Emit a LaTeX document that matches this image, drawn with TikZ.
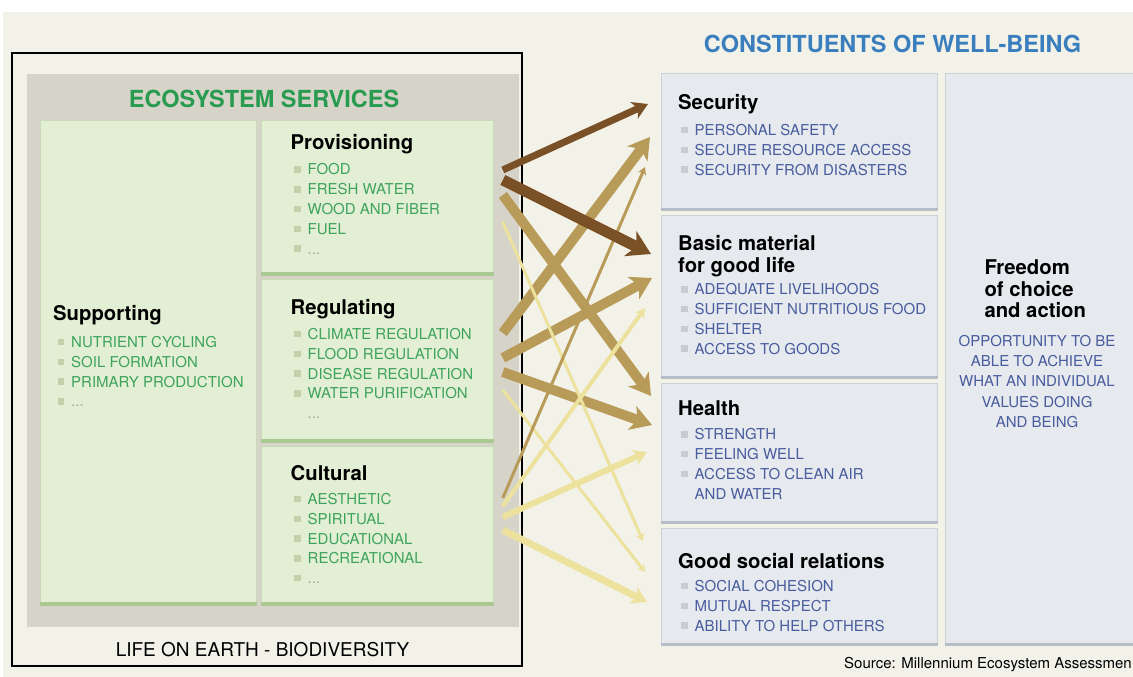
\documentclass[tikz,border=0pt]{standalone}
\usepackage{fontspec}
\setmainfont{TeX Gyre Heros}
\usetikzlibrary{arrows.meta,calc}

\definecolor{cream}{RGB}{243,242,233}
\definecolor{panelgray}{RGB}{214,212,200}
\definecolor{gfill}{RGB}{227,239,212}
\definecolor{gline}{RGB}{200,218,182}
\definecolor{gedgecol}{RGB}{170,200,145}
\definecolor{gbul}{RGB}{196,208,170}
\definecolor{gtext}{RGB}{62,163,92}
\definecolor{gdots}{RGB}{150,172,138}
\definecolor{ecogreen}{RGB}{40,155,80}
\definecolor{bfill}{RGB}{230,233,238}
\definecolor{bline}{RGB}{204,208,216}
\definecolor{bedgecol}{RGB}{182,188,200}
\definecolor{bbul}{RGB}{200,203,210}
\definecolor{btext}{RGB}{72,92,158}
\definecolor{wbblue}{RGB}{58,126,190}
\definecolor{arrbrown}{RGB}{122,80,38}
\definecolor{arrtan}{RGB}{184,155,88}
\definecolor{arrlight}{RGB}{236,226,158}

\newcommand\bul{\raisebox{2.2pt}{\textcolor{bulcol}{\rule{6.5pt}{6.5pt}}}\hspace{7pt}}
\newcommand\nobul{\hspace{13.5pt}}

\tikzset{
  gbox/.style={rectangle, anchor=north west, inner sep=0pt, fill=gfill, draw=gline, line width=0.8pt},
  bbox/.style={rectangle, anchor=north west, inner sep=0pt, fill=bfill, draw=bline, line width=0.8pt},
  gedge/.style={draw=gedgecol, line width=3.5pt},
  bedge/.style={draw=bedgecol, line width=3pt},
  cathead/.style={anchor=base west, inner sep=0pt, align=left, font=\fontsize{20.3}{22}\selectfont\bfseries},
  maintitle/.style={anchor=base, inner sep=0pt, font=\fontsize{23.5}{26}\selectfont\bfseries},
  glist/.style={anchor=north west, inner sep=0pt, align=left, text=gtext,
    font=\fontsize{15}{19.8}\selectfont\colorlet{bulcol}{gbul}},
  blist/.style={anchor=north west, inner sep=0pt, align=left, text=btext,
    font=\fontsize{15}{19.8}\selectfont\colorlet{bulcol}{bbul}},
  arr/.style={-{Stealth[length=2pt 1.9, width=2pt 2.3, inset=1pt 0.5]}},
  linkstrong/.style={arr, draw=arrbrown},
  linkmed/.style={arr, draw=arrtan},
  linkweak/.style={arr, draw=arrlight}
}

\begin{document}
\begin{tikzpicture}[x=1pt,y=-1pt]
\useasboundingbox (0,0) rectangle (1133,677);
\fill[white] (0,0) rectangle (1133,677);
\fill[cream] (3,12) rectangle (1133,677);

% ecosystem services
\fill[panelgray] (27,74) rectangle (519,627);
\draw[line width=1.5pt] (12,53) rectangle (522,666);
\node[maintitle, text=ecogreen] (ecotitle) at (264,107.5) {ECOSYSTEM SERVICES};

\node[gbox, minimum width=216pt, minimum height=485pt] (supp) at (40,120) {};
\node[gbox, minimum width=232pt, minimum height=155pt] (prov) at (261,120) {};
\node[gbox, minimum width=232pt, minimum height=163pt] (reg) at (261,279) {};
\node[gbox, minimum width=232pt, minimum height=159pt] (cult) at (261,446) {};
\foreach \b in {supp,prov,reg,cult}
  \draw[gedge] ([yshift=1.75pt]\b.south west) -- ([yshift=1.75pt]\b.south east);

\node[cathead] (supphead) at (53,320.5) {Supporting};
\node[glist] (supplist) at (57.5,336) {\bul NUTRIENT CYCLING\\ \bul SOIL FORMATION\\
  \bul PRIMARY PRODUCTION\\ \bul\textcolor{gdots}{...}};
\node[cathead] (provhead) at (290.5,149.5) {Provisioning};
\node[glist] (provlist) at (294,163.5) {\bul FOOD\\ \bul FRESH WATER\\ \bul WOOD AND FIBER\\
  \bul FUEL\\ \bul\textcolor{gdots}{...}};
\node[cathead] (reghead) at (290.5,314.5) {Regulating};
\node[glist] (reglist) at (294,328) {\bul CLIMATE REGULATION\\ \bul FLOOD REGULATION\\
  \bul DISEASE REGULATION\\ \bul WATER PURIFICATION\\ \nobul\textcolor{gdots}{...}};
\node[cathead] (culthead) at (290.5,480) {Cultural};
\node[glist] (cultlist) at (294,493) {\bul AESTHETIC\\ \bul SPIRITUAL\\ \bul EDUCATIONAL\\
  \bul RECREATIONAL\\ \bul\textcolor{gdots}{...}};

\node[anchor=base, inner sep=0pt, font=\fontsize{19}{22}\selectfont] (life) at (262.5,656)
  {LIFE ON EARTH - BIODIVERSITY};

% constituents of well-being
\node[maintitle, text=wbblue] (wbtitle) at (892.5,53) {CONSTITUENTS OF WELL-BEING};

\node[bbox, minimum width=276pt, minimum height=137pt] (secu) at (661,73) {};
\node[bbox, minimum width=276pt, minimum height=163pt] (basic) at (661,215) {};
\node[bbox, minimum width=276pt, minimum height=140pt] (health) at (661,383) {};
\node[bbox, minimum width=276pt, minimum height=117pt] (social) at (661,528) {};
\node[bbox, minimum width=192pt, minimum height=572pt] (free) at (945,73) {};
\foreach \b in {secu,basic,health,social,free}
  \draw[bedge] ([yshift=1.5pt]\b.south west) -- ([yshift=1.5pt]\b.south east);

\node[cathead] (secuhead) at (678,109.3) {Security};
\node[blist] (seculist) at (681,124) {\bul PERSONAL SAFETY\\ \bul SECURE RESOURCE ACCESS\\
  \bul SECURITY FROM DISASTERS};
\node[cathead, anchor=north west] (basichead) at (678,235) {Basic material\\ for good life};
\node[blist] (basiclist) at (681,283.3) {\bul ADEQUATE LIVELIHOODS\\ \bul SUFFICIENT NUTRITIOUS FOOD\\
  \bul SHELTER\\ \bul ACCESS TO GOODS};
\node[cathead] (healthhead) at (678,415) {Health};
\node[blist] (healthlist) at (681,428.3) {\bul STRENGTH\\ \bul FEELING WELL\\
  \bul ACCESS TO CLEAN AIR\\ \nobul AND WATER};
\node[cathead] (socialhead) at (678,568.3) {Good social relations};
\node[blist] (sociallist) at (681,580) {\bul SOCIAL COHESION\\ \bul MUTUAL RESPECT\\
  \bul ABILITY TO HELP OTHERS};
\node[cathead, anchor=north west, font=\fontsize{20.3}{21.7}\selectfont\bfseries] (freehead)
  at (984.3,259.3) {Freedom\\ of choice\\ and action};
\node[anchor=north, inner sep=0pt, align=center, text=btext, font=\fontsize{15}{20.2}\selectfont]
  (freetext) at (1037,335) {OPPORTUNITY TO BE\\ ABLE TO ACHIEVE\\ WHAT AN INDIVIDUAL\\
  VALUES DOING\\ AND BEING};

\node[anchor=base west, inner sep=0pt, font=\fontsize{15}{18}\selectfont] (source) at (844,668)
  {Source: Millennium Ecosystem Assessmen};

% links
\draw[linkmed, line width=10pt] ($(prov.north east)+(9,75)$) -- ($(health.north west)+(-10,13)$);
\draw[linkmed, line width=10pt] ($(reg.north east)+(9,54)$) -- ($(secu.north west)+(-11,64)$);
\draw[linkmed, line width=10pt] ($(reg.north east)+(9,79)$) -- ($(basic.north west)+(-9,63)$);
\draw[linkmed, line width=10pt] ($(reg.north east)+(9,93)$) -- ($(health.north west)+(-9,42)$);
\draw[linkweak, line width=3pt] ($(prov.north east)+(9,102)$) -- ($(social.north west)+(-18,13)$);
\draw[linkweak, line width=3pt] ($(reg.north east)+(9,111)$) -- ($(social.north west)+(-16,44)$);
\draw[linkweak, line width=4pt] ($(cult.north east)+(9,60)$) -- ($(basic.north west)+(-16,93)$);
\draw[linkweak, line width=6pt] ($(cult.north east)+(9,71)$) -- ($(health.north west)+(-14,69)$);
\draw[linkweak, line width=7pt] ($(cult.north east)+(9,84)$) -- ($(social.north west)+(-14,74)$);
\draw[linkmed, line width=3pt] ($(cult.north east)+(9,52)$) -- ($(secu.north west)+(-16,94)$);
\draw[linkstrong, line width=7pt] ($(prov.north east)+(9,50)$) -- ($(secu.north west)+(-13,31)$);
\draw[linkstrong, line width=11pt] ($(prov.north east)+(9,60)$) -- ($(basic.north west)+(-10,39)$);

\end{tikzpicture}
\end{document}
